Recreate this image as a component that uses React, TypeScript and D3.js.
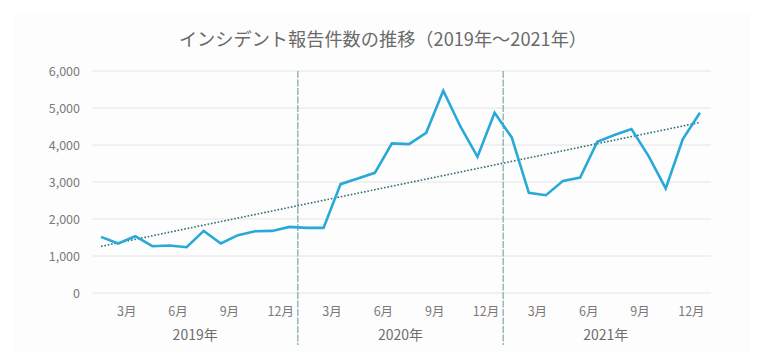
import React, { useEffect, useRef } from 'react';
import * as d3 from 'd3';

// chart values
const years = ['2019年', '2020年', '2021年'];
const monthNumbers = [1, 2, 3, 4, 5, 6, 7, 8, 9, 10, 11, 12];
const shownMonths = [3, 6, 9, 12];
const incidents2019 = [1516, 1337, 1535, 1264, 1283, 1237, 1678, 1337, 1562, 1670, 1678, 1786];
const incidents2020 = [1760, 1760, 2942, 3096, 3248, 4043, 4025, 4330, 5467, 4500, 3681, 4871];
const incidents2021 = [4205, 2706, 2644, 3031, 3122, 4087, 4268, 4430, 3700, 2825, 4160, 4871];
const yTicks = [0, 1000, 2000, 3000, 4000, 5000, 6000];
const title = 'インシデント報告件数の推移（2019年～2021年）';

const FONT = "'Noto Sans CJK JP', 'Noto Sans', sans-serif";

const App = () => {
  const ref = useRef<SVGSVGElement | null>(null);

  useEffect(() => {
    drawChart();
  }, []);

  const drawChart = () => {
    const svg = d3.select(ref.current);
    svg.selectAll('*').remove();

    const series = [incidents2019, incidents2020, incidents2021];
    const data = years.flatMap((year, yi) =>
      monthNumbers.map((m, mi) => ({ key: `${year}-${m}`, year, month: m, value: series[yi][mi] }))
    );

    const left = 92.5;
    const right = 708.5;
    const top = 71;
    const bottom = 293;

    const x = d3.scaleBand<string>()
      .domain(data.map(d => d.key))
      .range([left, right]);

    const y = d3.scaleLinear()
      .domain([0, 6000])
      .range([bottom, top]);

    // soft background panel
    svg.append('rect')
      .attr('x', 14).attr('y', 12)
      .attr('width', 736).attr('height', 340)
      .attr('fill', '#fdfdfd');

    // title
    svg.append('text')
      .attr('x', 383).attr('y', 46)
      .attr('text-anchor', 'middle')
      .attr('font-family', FONT)
      .attr('font-size', 18.2)
      .attr('fill', '#6a6a6a')
      .text(title);

    // grid + y labels
    svg.append('g')
      .selectAll('line')
      .data(yTicks)
      .enter().append('line')
      .attr('x1', left).attr('x2', 711)
      .attr('y1', d => y(d)).attr('y2', d => y(d))
      .attr('stroke', '#e4e4e4')
      .attr('stroke-width', 1);

    svg.append('g')
      .selectAll('text')
      .data(yTicks)
      .enter().append('text')
      .attr('x', 80)
      .attr('y', d => y(d) + 4.5)
      .attr('text-anchor', 'end')
      .attr('font-family', FONT)
      .attr('font-size', 12.5)
      .attr('fill', '#7a7a7a')
      .text(d => d3.format(',')(d));

    // year separators
    const bw = x.bandwidth();
    svg.append('g')
      .selectAll('line')
      .data(years.slice(1))
      .enter().append('line')
      .attr('x1', d => x(`${d}-1`)!)
      .attr('x2', d => x(`${d}-1`)!)
      .attr('y1', top).attr('y2', 345)
      .attr('stroke', '#86adb2')
      .attr('stroke-width', 1.3)
      .attr('stroke-dasharray', '7,1.5');

    // month labels
    const monthLabels = data.filter(d => shownMonths.includes(d.month));
    svg.append('g')
      .selectAll('text')
      .data(monthLabels)
      .enter().append('text')
      .attr('x', d => x(d.key)!)
      .attr('y', 316)
      .attr('text-anchor', 'middle')
      .attr('font-family', FONT)
      .attr('font-size', 12.5)
      .attr('fill', '#7a7a7a')
      .text(d => `${d.month}月`);

    // year labels
    svg.append('g')
      .selectAll('text')
      .data(years)
      .enter().append('text')
      .attr('x', d => (x(`${d}-1`)! + x(`${d}-12`)! + bw) / 2)
      .attr('y', 340)
      .attr('text-anchor', 'middle')
      .attr('font-family', FONT)
      .attr('font-size', 14)
      .attr('fill', '#6e6e6e')
      .text(d => d);

    // linear trend line (least squares)
    const n = data.length;
    const idx = d3.range(n);
    const mx = d3.mean(idx)!;
    const my = d3.mean(data, d => d.value)!;
    const slope = d3.sum(idx, i => (i - mx) * (data[i].value - my)) / d3.sum(idx, i => (i - mx) ** 2);
    const intercept = my - slope * mx;
    const cx = (d: { key: string }) => x(d.key)! + bw / 2;

    svg.append('line')
      .attr('x1', cx(data[0]))
      .attr('y1', y(intercept))
      .attr('x2', cx(data[n - 1]))
      .attr('y2', y(intercept + slope * (n - 1)))
      .attr('stroke', '#2f6e76')
      .attr('stroke-width', 1.6)
      .attr('stroke-dasharray', '1.6,1.8');

    // main line
    const line = d3.line<typeof data[0]>()
      .x(d => cx(d))
      .y(d => y(d.value));

    svg.append('path')
      .datum(data)
      .attr('d', line)
      .attr('fill', 'none')
      .attr('stroke', '#28a9d8')
      .attr('stroke-width', 2.6)
      .attr('stroke-linejoin', 'miter');
  };

  return (
    <svg
      ref={ref}
      width={764}
      height={361}
      style={{ position: 'absolute', left: 0, top: 0, background: '#ffffff' }}
    />
  );
};

export default App;
